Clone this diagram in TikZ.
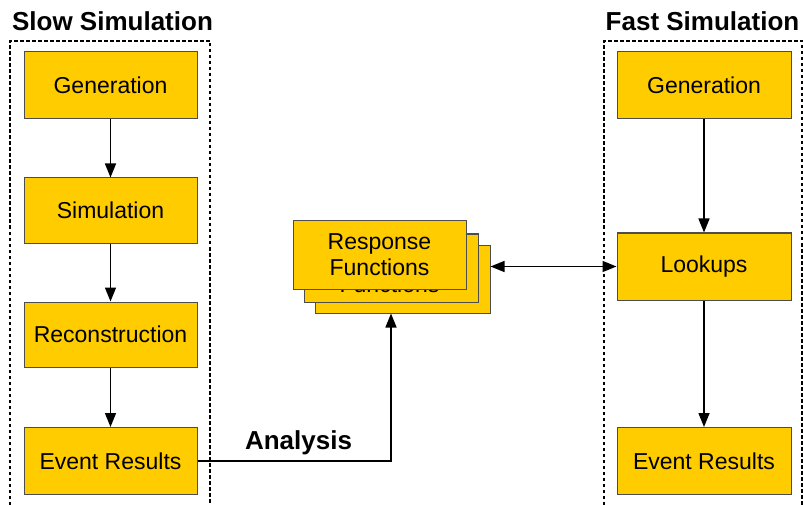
\documentclass[tikz,border=0pt]{standalone}
\usepackage{fontspec}
\setmainfont{Liberation Sans}
\usetikzlibrary{arrows.meta}
\definecolor{boxfill}{HTML}{FFCC00}
\definecolor{boxline}{HTML}{4D4D4D}
\begin{document}
\begin{tikzpicture}[x=1pt,y=-1pt,
  stage/.style={draw=boxline, fill=boxfill, line width=1pt, minimum width=173pt,
    minimum height=66pt, inner sep=0pt, align=center,
    font=\fontsize{23}{26}\selectfont},
  tip/.tip={Triangle[length=14pt,width=11pt]},
  flow/.style={line width=1.5pt, -tip},
  flowboth/.style={line width=1.5pt, tip-tip},
  group/.style={line width=1.8pt, dash pattern=on 3.5pt off 2.5pt},
  title/.style={font=\bfseries\fontsize{26}{30}\selectfont}]
\useasboundingbox (0,0) rectangle (803,505);

% group frames, open at the bottom
\draw[group] (10,505) -- (10,41) -- (210,41) -- (210,505);
\draw[group] (604,505) -- (604,41) -- (802,41) -- (802,505);

% titles
\node[title] (slowt) at (112.5,21) {Slow Simulation};
\node[title] (fastt) at (702.5,21) {Fast Simulation};

% slow chain
\node[stage, minimum height=67pt] (gen1) at (110.5,85.5) {Generation};
\node[stage, minimum height=65pt] (sim1) at (110.5,210.5) {Simulation};
\node[stage, minimum height=65pt] (rec1) at (110.5,334.5) {Reconstruction};
\node[stage, minimum height=67pt] (ev1) at (110.5,461) {Event Results};

% fast chain
\node[stage, minimum height=67pt, minimum width=174pt] (gen2) at (704,85.5) {Generation};
\node[stage, minimum height=67pt, minimum width=174pt] (look2) at (704,266.5) {Lookups};
\node[stage, minimum height=67pt, minimum width=174pt] (ev2) at (704,461) {Event Results};

% stacked response function sheets (back to front)
\node[stage, minimum height=68pt, minimum width=175pt] (rf3) at (402.5,279) {};
\node[stage, minimum height=68pt, minimum width=174pt] (rf2) at (391,268) {};
\node[align=center, inner sep=0pt, font=\fontsize{23}{26}\selectfont]
  (rf2text) at (389.5,272) {Response\\Functions};
\node[stage, minimum height=68pt, minimum width=173pt] (rf1) at (379.5,255) {Response\\Functions};

% connectors
\draw[flow] (gen1) -- (sim1);
\draw[flow] (sim1) -- (rec1);
\draw[flow] (rec1) -- (ev1);
\draw[flow] (gen2) -- (look2);
\draw[flow] (look2) -- (ev2);
\draw[flowboth] (look2.west -| rf3.east) -- (look2.west);
\draw[flow] (ev1.east) -| (rf2.south |- rf3.south);

\node[title] (ana) at (298.5,443) {Analysis};
\end{tikzpicture}
\end{document}
